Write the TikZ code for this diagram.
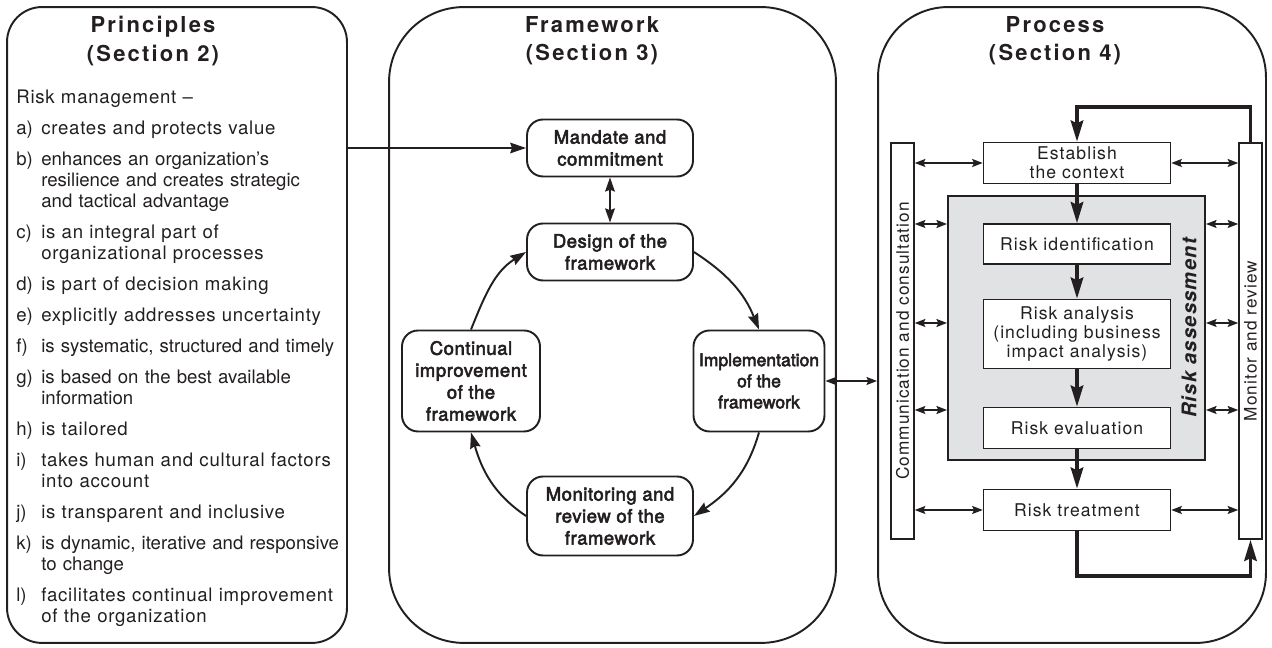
\documentclass[tikz,border=0pt]{standalone}
\usepackage{fontspec}
\setmainfont{TeX Gyre Heros}
\usetikzlibrary{arrows.meta,positioning,calc}
\definecolor{cInk}{HTML}{231F20}
\definecolor{cGrey}{HTML}{E1E2E4}
\newcommand{\trk}[1]{{\addfontfeatures{LetterSpace=4}#1}}
\newcommand{\pitem}[2]{\par\hangindent=14.2pt\hangafter=1\noindent\makebox[14.2pt][l]{#1}#2}

\tikzset{
  panel/.style={draw=cInk, line width=1.1pt},
  paneltitle/.style={align=center, text=cInk, font=\fontsize{12.5}{16}\selectfont\bfseries\addfontfeatures{LetterSpace=10}},
  fwbox/.style={draw=cInk, text=cInk, line width=1.1pt, rounded corners=0.32cm, align=center, inner sep=1pt,
    font=\fontsize{10.5}{12.5}\selectfont\addfontfeatures{FakeBold=3,LetterSpace=3}},
  pbox/.style={draw=cInk, text=cInk, line width=0.85pt, fill=white, minimum width=3.74cm, align=center, inner sep=1pt,
    font=\fontsize{10}{10.8}\selectfont\addfontfeatures{LetterSpace=6}},
  sidebar/.style={draw=cInk, text=cInk, line width=0.85pt, fill=white, rotate=90, minimum width=7.92cm,
    minimum height=0.46cm, inner sep=0pt, font=\fontsize{9.8}{10}\selectfont\addfontfeatures{LetterSpace=6}},
  cyc/.style={-{Stealth[length=9pt,width=6pt,inset=1pt]}, line width=1.1pt, cInk},
  cycboth/.style={{Stealth[length=8pt,width=5.5pt,inset=1pt]}-{Stealth[length=8pt,width=5.5pt,inset=1pt]}, line width=1.1pt, cInk},
  twoway/.style={{Stealth[length=6pt,width=4.5pt,inset=1pt]}-{Stealth[length=6pt,width=4.5pt,inset=1pt]}, line width=1pt, cInk},
  flow/.style={-{Stealth[length=12pt,width=7pt,inset=1.5pt]}, line width=2.2pt, cInk},
}

\begin{document}
\begin{tikzpicture}[x=0.02cm, y=0.02cm]
\useasboundingbox (0,0) rectangle (1272,648);

% three panels
\node[panel, rounded corners=0.7cm, minimum width=6.8cm, minimum height=12.72cm] (principles) at (177,323) {};
\node[panel, rounded corners=1.5cm, minimum width=8.94cm, minimum height=12.72cm] (framework) at (612.5,323) {};
\node[panel, rounded corners=1.4cm, minimum width=7.76cm, minimum height=12.72cm] (process) at (1072,323) {};

\node[paneltitle] (ptitle) at (153,607) {Principles\\(Section 2)};
\node[paneltitle] (ftitle) at (592,607) {Framework\\(Section 3)};
\node[paneltitle] (prtitle) at (1055,607) {Process\\(Section 4)};

% principles list
\node[anchor=north west, inner sep=0pt, text width=6.6cm, text=cInk, font=\fontsize{10.6}{12}\selectfont] (plist) at (16,558) {%
\setlength{\parskip}{5.6pt}%
\noindent\trk{Risk management --}
\pitem{a)}{\trk{creates and protects value}}
\pitem{b)}{enhances an organization's\newline resilience and creates strategic\newline and tactical advantage}
\pitem{c)}{\trk{is an integral part of\newline organizational processes}}
\pitem{d)}{\trk{is part of decision making}}
\pitem{e)}{\trk{explicitly addresses uncertainty}}
\pitem{f)}{is systematic, structured and timely}
\pitem{g)}{is based on the best available\newline information}
\pitem{h)}{\trk{is tailored}}
\pitem{i)}{\trk{takes human and cultural factors\newline into account}}
\pitem{j)}{\trk{is transparent and inclusive}}
\pitem{k)}{is dynamic, iterative and responsive\newline to change}
\pitem{l)}{\trk{facilitates continual improvement\newline of the organization}}\par
};

% framework cycle
\node[fwbox, minimum width=3.32cm, minimum height=1.14cm] (mandate) at (610,500) {Mandate and\\commitment};
\node[fwbox, minimum width=3.32cm, minimum height=1.14cm] (design) at (610,396) {Design of the\\framework};
\node[fwbox, minimum width=2.76cm, minimum height=2.02cm] (continual) at (471,267) {Continual\\improvement\\of the\\framework};
\node[fwbox, minimum width=2.62cm, minimum height=2.02cm, font=\fontsize{10}{12}\selectfont\addfontfeatures{FakeBold=3}] (impl) at (759,267) {Implementation\\of the\\framework};
\node[fwbox, minimum width=3.32cm, minimum height=1.58cm] (monitoring) at (610,132) {Monitoring and\\review of the\\framework};

\draw[cyc] (principles.east |- mandate.west) -- (mandate.west);
\draw[cycboth] (mandate) -- (design);
\draw[cyc] (design.east) to[out=-33,in=112] (impl.north);
\draw[cyc] (impl.south) to[out=-106,in=34] (monitoring.east);
\draw[cyc] (monitoring.west) to[out=146,in=-74] (continual.south);
\draw[cyc] (continual.north) to[out=68,in=-148] (design.west);
\draw[twoway] (impl.east) -- (impl.east -| process.west);

% process
\node[draw=cInk, line width=1.1pt, fill=cGrey, minimum width=5.14cm, minimum height=5.28cm] (assess) at (1076.5,320) {};
\node[rotate=90, text=cInk, font=\fontsize{11.5}{12}\selectfont\bfseries\itshape\addfontfeatures{LetterSpace=6}] (assesslabel) at (1189,320) {Risk assessment};

\node[pbox, minimum height=0.82cm] (establish) at (1077,485) {Establish\\the context};
\node[pbox, minimum height=0.8cm] (ident) at (1077,404) {Risk identification};
\node[pbox, minimum height=1.38cm] (analysis) at (1077,314) {Risk analysis\\(including business\\impact analysis)};
\node[pbox, minimum height=0.82cm] (evaluation) at (1077,220) {Risk evaluation};
\node[pbox, minimum height=0.82cm] (treatment) at (1077,138) {Risk treatment};

\node[sidebar] (comm) at (902.5,307) {Communication and consultation};
\node[sidebar] (monitor) at (1250.5,307) {Monitor and review};

\draw[flow] (establish) -- (ident);
\draw[flow] (ident) -- (analysis);
\draw[flow] (analysis) -- (evaluation);
\draw[flow] (evaluation) -- (treatment);
\draw[flow] (monitor.east) -- ++(0,35) -| (establish.north);
\draw[flow] (treatment.south) -- ++(0,-45) -| (monitor.west);

\draw[twoway] (comm.south |- establish.west) -- (establish.west);
\draw[twoway] (establish.east) -- (establish.east -| monitor.north);
\draw[twoway] (comm.south |- treatment.west) -- (treatment.west);
\draw[twoway] (treatment.east) -- (treatment.east -| monitor.north);
\foreach \yy/\i in {424/1, 325/2, 238/3} {
  \coordinate (row\i) at (0,\yy);
  \draw[twoway] (comm.south |- row\i) -- (assess.west |- row\i);
  \draw[twoway] (assess.east |- row\i) -- (monitor.north |- row\i);
}
\end{tikzpicture}
\end{document}
